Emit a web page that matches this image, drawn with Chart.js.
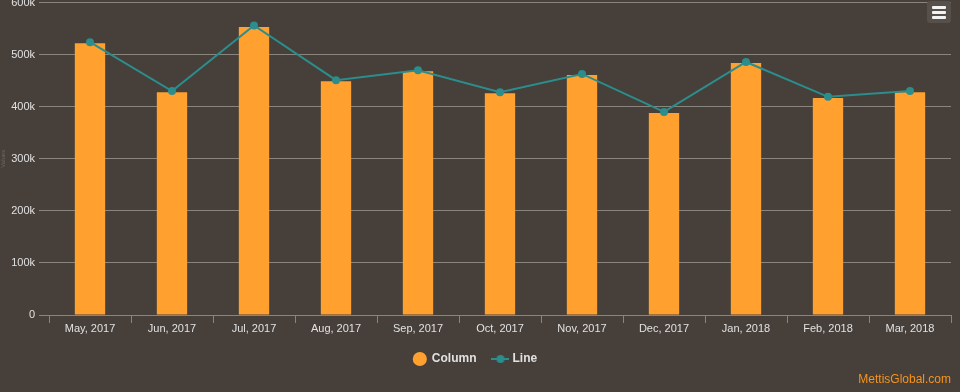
<!DOCTYPE html>
<html>
<head>
<meta charset="utf-8">
<script src="https://cdn.jsdelivr.net/npm/chart.js@4/dist/chart.umd.min.js"></script>
<style>
  body { margin: 0; background: #463f3a; }
  #wrap { position: relative; width: 960px; height: 392px; overflow: hidden; background: #463f3a; }
  #box { position: absolute; left: 0; top: -8px; width: 960px; height: 400px; }
  .menu { position: absolute; left: 927px; top: 1px; width: 24px; height: 22px; background: #57504a; border-radius: 3px; }
  .menu i { position: absolute; left: 5px; width: 14px; height: 3px; background: #f2f2f2; border-radius: 1px; }
  .credit { position: absolute; right: 9px; top: 372px; color: #f7941d; font: 12px "Liberation Sans", Arial, sans-serif; }
</style>
</head>
<body>
<div id="wrap">
  <div id="box"><canvas id="combo"></canvas></div>
  <div class="menu"><i style="top:5px"></i><i style="top:10px"></i><i style="top:15px"></i></div>
  <div class="credit">MettisGlobal.com</div>
</div>
<script>
const months = ['May, 2017', 'Jun, 2017', 'Jul, 2017', 'Aug, 2017', 'Sep, 2017', 'Oct, 2017',
  'Nov, 2017', 'Dec, 2017', 'Jan, 2018', 'Feb, 2018', 'Mar, 2018'];
const columnValues = [522000, 428000, 553000, 449000, 468000, 426000, 461000, 388000, 484000, 417000, 428000];
const lineValues = [524000, 430000, 556000, 451000, 470000, 428000, 463000, 390000, 486000, 419000, 430000];

const orange = '#ffa02f';
const teal = '#2b8d8c';
const txt = '#e2e2e2';
const grid = '#8a847e';

// little icon for the line legend: stroke with a dot on it
const lineIcon = document.createElement('canvas');
lineIcon.width = 18; lineIcon.height = 10;
(function () {
  const c = lineIcon.getContext('2d');
  c.strokeStyle = teal; c.lineWidth = 2;
  c.beginPath(); c.moveTo(0, 5); c.lineTo(18, 5); c.stroke();
  c.fillStyle = teal;
  c.beginPath(); c.arc(9, 5, 4, 0, Math.PI * 2); c.fill();
})();

const ctx = document.querySelector('#combo').getContext('2d');
new Chart(ctx, {
  data: {
    labels: months,
    datasets: [{
      type: 'line',
      label: 'Line',
      data: lineValues,
      borderColor: teal,
      backgroundColor: teal,
      borderWidth: 2,
      pointRadius: 4,
      pointBackgroundColor: teal,
      pointBorderWidth: 0,
      tension: 0,
      order: 0
    }, {
      type: 'bar',
      label: 'Column',
      data: columnValues,
      backgroundColor: orange,
      barPercentage: 0.37,
      categoryPercentage: 1,
      order: 1
    }]
  },
  options: {
    responsive: true,
    maintainAspectRatio: false,
    animation: false,
    layout: { padding: { left: 0, right: 9, top: 0, bottom: 17 } },
    scales: {
      x: {
        grid: { color: grid, drawOnChartArea: false, tickLength: 8, offset: true },
        border: { color: grid },
        ticks: { color: txt, padding: -1, font: { family: 'Liberation Sans', size: 11 }, maxRotation: 0 },
        afterFit: s => { s.height = 20; }
      },
      y: {
        min: 0,
        max: 600000,
        grid: { color: grid, tickLength: 10 },
        border: { display: false },
        ticks: {
          stepSize: 100000,
          color: txt,
          padding: 4,
          font: { family: 'Liberation Sans', size: 11 },
          callback: v => v === 0 ? '0' : (v / 1000) + 'k'
        },
        title: { display: true, text: 'Values', color: '#6f6862', font: { size: 6 }, padding: 0 },
        afterFit: s => { s.width = 49; }
      }
    },
    plugins: {
      legend: {
        position: 'bottom',
        reverse: true,
        labels: {
          color: txt,
          usePointStyle: true,
          boxHeight: 10,
          padding: 18,
          font: { family: 'Liberation Sans', size: 12, weight: 'bold' },
          generateLabels: chart => chart.data.datasets.map((ds, i) => ({
            text: ds.label,
            datasetIndex: i,
            fillStyle: ds.type === 'bar' ? orange : teal,
            strokeStyle: 'transparent',
            lineWidth: 0,
            fontColor: txt,
            pointStyle: ds.type === 'bar' ? 'circle' : lineIcon
          }))
        }
      },
      tooltip: { enabled: false }
    }
  }
});
</script>
</body>
</html>
